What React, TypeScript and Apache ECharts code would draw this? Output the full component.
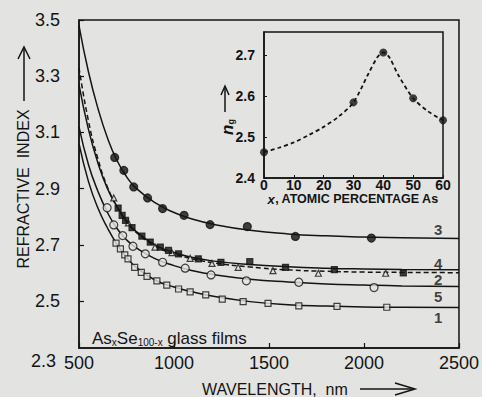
import React, { useEffect, useRef } from 'react';
import * as echarts from 'echarts';

// ---- Main chart: refractive index vs wavelength (nm) ----
const wavelengthGrid = [500, 550, 600, 650, 700, 750, 800, 900, 1000, 1100, 1200, 1400, 1600, 1800, 2000, 2200, 2500];
const curve1Line = [3.06, 2.925, 2.83, 2.76, 2.702, 2.656, 2.621, 2.575, 2.55, 2.532, 2.518, 2.498, 2.487, 2.482, 2.479, 2.478, 2.477];
const curve2Line = [3.33, 3.14, 3.005, 2.905, 2.835, 2.782, 2.745, 2.696, 2.668, 2.65, 2.637, 2.621, 2.611, 2.606, 2.603, 2.602, 2.601];
const curve3Line = [3.48, 3.315, 3.185, 3.08, 3.0, 2.943, 2.902, 2.85, 2.815, 2.791, 2.774, 2.752, 2.739, 2.732, 2.728, 2.725, 2.723];
const curve4Line = [3.27, 3.11, 2.99, 2.9, 2.837, 2.785, 2.748, 2.7, 2.673, 2.655, 2.643, 2.63, 2.622, 2.617, 2.614, 2.612, 2.611];
const curve5Line = [3.12, 2.985, 2.89, 2.815, 2.758, 2.718, 2.69, 2.651, 2.626, 2.608, 2.595, 2.578, 2.568, 2.561, 2.557, 2.554, 2.552];

const curve1Points = [[695, 2.706], [718, 2.686], [741, 2.664], [758, 2.65], [793, 2.62], [828, 2.602], [858, 2.588], [910, 2.572], [962, 2.557], [1024, 2.543], [1085, 2.533], [1167, 2.522], [1254, 2.507], [1364, 2.498], [1495, 2.492], [1657, 2.483], [1858, 2.481], [2120, 2.478]];
const curve2Points = [[683, 2.867], [760, 2.778], [900, 2.692], [989, 2.672], [1085, 2.652], [1200, 2.634], [1338, 2.62], [1521, 2.608], [1760, 2.599], [2114, 2.599]];
const curve3Points = [[688, 3.011], [736, 2.965], [788, 2.906], [861, 2.867], [940, 2.829], [1053, 2.805], [1190, 2.772], [1386, 2.765], [1639, 2.73], [2039, 2.724]];
const curve4Points = [[706, 2.831], [727, 2.805], [745, 2.787], [779, 2.761], [831, 2.731], [875, 2.71], [928, 2.692], [971, 2.68], [1024, 2.668], [1128, 2.65], [1247, 2.638], [1399, 2.64], [1587, 2.62], [1844, 2.612], [2207, 2.6]];
const curve5Points = [[648, 2.832], [683, 2.771], [730, 2.733], [784, 2.695], [849, 2.668], [940, 2.638], [1059, 2.617], [1195, 2.593], [1381, 2.572], [1657, 2.567], [2053, 2.548]];

const curveLabels = [[2390, 2.756, '3'], [2390, 2.634, '4'], [2390, 2.575, '2'], [2390, 2.518, '5'], [2390, 2.441, '1']];

const mainXTicks = [500, 1000, 1500, 2000, 2500];
const mainYTicks = [2.5, 2.7, 2.9, 3.1, 3.3, 3.5];

// ---- Inset: n_g vs atomic percentage As ----
const insetX = [0, 30, 40, 50, 60];
const insetNg = [2.463, 2.585, 2.707, 2.595, 2.541];
const insetCurveX = [0, 5, 10, 15, 20, 25, 30, 35, 38, 40, 42, 45, 50, 55, 60];
const insetCurveY = [2.463, 2.474, 2.487, 2.505, 2.525, 2.55, 2.585, 2.655, 2.695, 2.707, 2.695, 2.652, 2.595, 2.563, 2.541];
const insetYTicks = [2.4, 2.5, 2.6, 2.7];

const INK = '#141414';
const BG = '#e3e3e1';
const FONT = '"Liberation Sans", Arial, Helvetica, sans-serif';

const pair = (xs: number[], ys: number[]) => xs.map((x, i) => [x, ys[i]]);

export default function App() {
  const ref = useRef<HTMLDivElement>(null);
  useEffect(() => {
    document.body.style.margin = '0';
    document.body.style.background = BG;
    const chart = echarts.init(ref.current!, null, { renderer: 'svg' });

    const lineSeries = (name: string, ys: number[], dashed = false) => ({
      type: 'line',
      name,
      xAxisIndex: 0,
      yAxisIndex: 0,
      data: pair(wavelengthGrid, ys),
      smooth: 0.5,
      symbol: 'none',
      silent: true,
      lineStyle: { color: INK, width: 1.5, type: dashed ? [5, 3] : 'solid' },
      z: 2,
    });
    const markerSeries = (name: string, pts: number[][], symbol: string, size: number, filled: boolean) => ({
      type: 'scatter',
      name,
      xAxisIndex: 0,
      yAxisIndex: 0,
      data: pts,
      symbol,
      symbolSize: size,
      silent: true,
      itemStyle: { color: filled ? INK : BG, borderColor: INK, borderWidth: 1.2 },
      z: 3,
    });

    const axisCommon = {
      axisLine: { show: true, lineStyle: { color: INK, width: 1.5 } },
      splitLine: { show: false },
    };

    chart.setOption({
      animation: false,
      backgroundColor: BG,
      textStyle: { fontFamily: FONT, color: INK },
      grid: [
        { left: 79, top: 20, width: 383, height: 328, show: true, borderColor: INK, borderWidth: 1.5, backgroundColor: 'transparent' },
        { left: 264, top: 32, width: 179, height: 146, show: true, borderColor: INK, borderWidth: 1.5, backgroundColor: BG, z: 5 },
      ],
      xAxis: [
        {
          type: 'value', gridIndex: 0, min: 500, max: 2500, interval: 500, ...axisCommon,
          axisTick: { show: true, inside: true, length: 5, customValues: mainXTicks, lineStyle: { color: INK, width: 1.2 } },
          axisLabel: { color: INK, fontSize: 18, margin: 6, fontFamily: FONT, customValues: mainXTicks, formatter: (v: number) => String(v) },
        },
        {
          type: 'value', gridIndex: 1, min: 0, max: 60, interval: 10, ...axisCommon, z: 6,
          axisTick: { show: true, inside: true, length: 3, lineStyle: { color: INK, width: 1 } },
          axisLabel: { color: INK, fontSize: 14, fontWeight: 'bold', margin: 0, lineHeight: 13, fontFamily: FONT, formatter: (v: number) => String(v) },
        },
      ],
      yAxis: [
        {
          type: 'value', gridIndex: 0, min: 2.333, max: 3.5, ...axisCommon,
          axisTick: { show: true, inside: true, length: 5, customValues: mainYTicks, lineStyle: { color: INK, width: 1.2 } },
          axisLabel: { color: INK, fontSize: 18, margin: 19, fontFamily: FONT, customValues: mainYTicks, formatter: (v: number) => v.toFixed(1) },
        },
        {
          type: 'value', gridIndex: 1, min: 2.4, max: 2.757, ...axisCommon, z: 6,
          axisTick: { show: true, inside: true, length: 3, customValues: insetYTicks, lineStyle: { color: INK, width: 1 } },
          axisLabel: { color: INK, fontSize: 14, fontWeight: 'bold', margin: 9, fontFamily: FONT, customValues: insetYTicks, formatter: (v: number) => v.toFixed(1) },
        },
      ],
      series: [
        lineSeries('1', curve1Line),
        lineSeries('2', curve2Line, true),
        lineSeries('3', curve3Line),
        lineSeries('4', curve4Line),
        lineSeries('5', curve5Line),
        markerSeries('1 pts', curve1Points, 'rect', 6, false),
        markerSeries('2 pts', curve2Points, 'triangle', 6, false),
        markerSeries('3 pts', curve3Points, 'circle', 8, true),
        markerSeries('4 pts', curve4Points, 'rect', 6, true),
        markerSeries('5 pts', curve5Points, 'circle', 8, false),
        {
          type: 'scatter', name: 'labels', xAxisIndex: 0, yAxisIndex: 0, data: curveLabels, symbolSize: 0, silent: true,
          label: { show: true, position: 'inside', formatter: (p: any) => p.value[2], color: INK, fontSize: 15, fontWeight: 'bold', fontFamily: FONT },
          z: 4,
        },
        {
          type: 'line', name: 'inset curve', xAxisIndex: 1, yAxisIndex: 1, data: pair(insetCurveX, insetCurveY),
          smooth: 0.3, symbol: 'none', silent: true, z: 7,
          lineStyle: { color: INK, width: 1.8, type: [4, 3] },
        },
        {
          type: 'scatter', name: 'inset pts', xAxisIndex: 1, yAxisIndex: 1, data: pair(insetX, insetNg),
          symbol: 'circle', symbolSize: 8, silent: true, z: 8,
          itemStyle: { color: INK },
        },
      ],
      graphic: [
        // main y-axis title
        { type: 'text', x: 23, y: 189, rotation: Math.PI / 2, z: 10,
          style: { text: 'REFRACTIVE  INDEX', font: `16px ${FONT}`, fill: INK, align: 'center', verticalAlign: 'middle' } },
        { type: 'line', z: 10, shape: { x1: 24, y1: 101, x2: 24, y2: 47 }, style: { stroke: INK, lineWidth: 1.5 } },
        { type: 'polyline', z: 10, shape: { points: [[18, 59], [24, 47], [30, 59]] }, style: { stroke: INK, lineWidth: 1.5, fill: 'none' } },
        // 2.3 label
        { type: 'text', x: 56, y: 361, z: 10,
          style: { text: '2.3', font: `18px ${FONT}`, fill: INK, align: 'right', verticalAlign: 'middle' } },
        // x-axis title
        { type: 'text', x: 202, y: 389, z: 10,
          style: { text: 'WAVELENGTH,  nm', font: `16px ${FONT}`, fill: INK, align: 'left', verticalAlign: 'middle' } },
        { type: 'line', z: 10, shape: { x1: 360, y1: 389, x2: 414, y2: 389 }, style: { stroke: INK, lineWidth: 1.5 } },
        { type: 'polyline', z: 10, shape: { points: [[395, 383], [415, 389], [395, 395]] }, style: { stroke: INK, lineWidth: 1.5, fill: 'none' } },
        // sample label
        { type: 'text', x: 92, y: 338, z: 10,
          style: {
            text: '{a|As}{s|x}{a|Se}{s|100-x}{a| glass films}',
            fill: INK, align: 'left', verticalAlign: 'middle',
            rich: {
              a: { fontSize: 17, fontFamily: FONT, fill: INK, color: INK, lineHeight: 20 },
              s: { fontSize: 10, fontFamily: FONT, fill: INK, color: INK, lineHeight: 20, padding: [9, 0, 0, 0] },
            },
          } },
        // inset x title
        { type: 'text', x: 353, y: 199, z: 10,
          style: {
            text: '{i|x}{b|, ATOMIC PERCENTAGE As}',
            align: 'center', verticalAlign: 'middle', fill: INK,
            rich: {
              i: { fontSize: 13, fontStyle: 'italic', fontWeight: 'bold', fontFamily: FONT, fill: INK, color: INK, lineHeight: 13 },
              b: { fontSize: 12.5, fontWeight: 'bold', fontFamily: FONT, fill: INK, color: INK, lineHeight: 13 },
            },
          } },
        // inset y title
        { type: 'text', x: 227, y: 127, rotation: Math.PI / 2, z: 10,
          style: {
            text: '{n|n}{g|g}',
            align: 'center', verticalAlign: 'middle', fill: INK,
            rich: {
              n: { fontSize: 17, fontStyle: 'italic', fontWeight: 'bold', fontFamily: FONT, fill: INK, color: INK, lineHeight: 18 },
              g: { fontSize: 9, fontWeight: 'bold', fontFamily: FONT, fill: INK, color: INK, lineHeight: 18, padding: [8, 0, 0, 0] },
            },
          } },
        { type: 'line', z: 10, shape: { x1: 225, y1: 112, x2: 225, y2: 87 }, style: { stroke: INK, lineWidth: 1.5 } },
        { type: 'polyline', z: 10, shape: { points: [[221, 95], [225, 86], [229, 95]] }, style: { stroke: INK, lineWidth: 1.5, fill: 'none' } },
      ],
    });
    return () => chart.dispose();
  }, []);
  return <div ref={ref} style={{ position: 'absolute', left: 0, top: 0, width: 482, height: 397 }} />;
}
